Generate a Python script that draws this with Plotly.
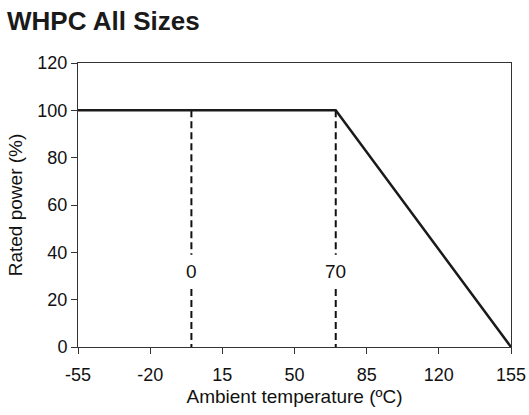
import plotly.graph_objects as go

# Data
curve_x = [-55, 70, 155]
curve_y = [100, 100, 0]
marker_temps = [0, 70]
marker_labels = ["0", "70"]
dash_upper_y = [100, 39]
dash_lower_y = [24.5, 0]
label_y = 32
x_ticks = [-55, -20, 15, 50, 85, 120, 155]
y_ticks = [0, 20, 40, 60, 80, 100, 120]

font_family = "Liberation Sans, Arial, sans-serif"
fig = go.Figure()

for t in marker_temps:
    for seg in (dash_upper_y, dash_lower_y):
        fig.add_trace(go.Scatter(x=[t, t], y=seg, mode="lines",
                                 line=dict(color="#111111", width=2, dash="7px,4px"),
                                 showlegend=False, hoverinfo="skip"))

fig.add_trace(go.Scatter(x=curve_x, y=curve_y, mode="lines",
                         line=dict(color="#1a1a1a", width=2.5),
                         showlegend=False))

for t, lab in zip(marker_temps, marker_labels):
    fig.add_annotation(x=t, y=label_y, text=lab, showarrow=False,
                       font=dict(family=font_family, size=19, color="#111111"))

fig.update_layout(
    width=529, height=415,
    margin=dict(l=78, r=18, t=63, b=68),
    paper_bgcolor="white", plot_bgcolor="white",
    font=dict(family=font_family, color="#111111"),
    title=dict(text="<b>WHPC All Sizes</b>", x=7/529, xanchor="left",
               y=1 - 21/415, yanchor="middle",
               font=dict(family=font_family, size=26, color="#1a1a1a")),
)
fig.update_xaxes(range=[-55, 155], tickvals=x_ticks, ticktext=[str(v) for v in x_ticks],
                 showgrid=False, zeroline=False, showline=True, linecolor="#333333",
                 linewidth=1, mirror=True, ticks="outside", ticklen=6, tickcolor="#333333",
                 automargin=False, ticklabelstandoff=5,
                 tickfont=dict(size=18), title=dict(text="Ambient temperature (ºC)",
                 font=dict(size=19), standoff=6))
fig.update_yaxes(range=[0, 120], tickvals=y_ticks, showgrid=False, zeroline=False,
                 showline=True, linecolor="#333333", linewidth=1, mirror=True,
                 automargin=False,
                 ticks="outside", ticklen=6, tickcolor="#333333", tickfont=dict(size=18),
                 title=dict(text="Rated power (%)", font=dict(size=19), standoff=9))

fig.write_html(
    "out.html",
    config={"displayModeBar": False},
    post_script="document.body.style.margin='0';document.body.style.overflow='hidden';",
)
